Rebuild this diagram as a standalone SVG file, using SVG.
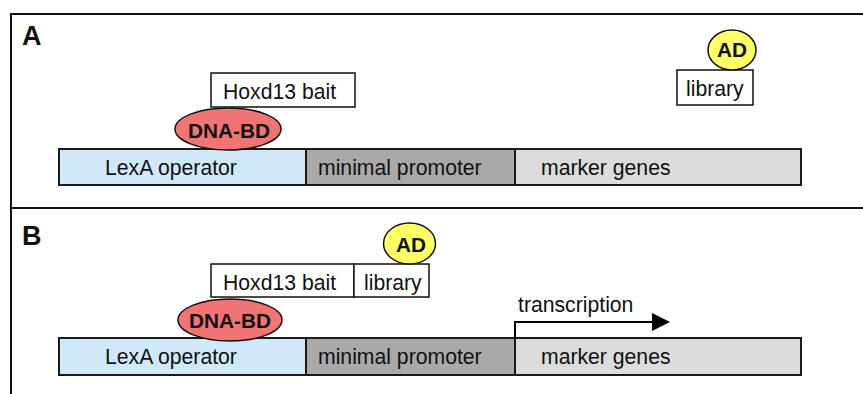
<svg xmlns="http://www.w3.org/2000/svg" width="863" height="394" viewBox="0 0 863 394">
<defs>
<style>
text{font-family:"Liberation Sans",Arial,sans-serif;fill:#111;}
.t{font-size:21.2px;}
.b{font-size:20.8px;font-weight:bold;}
.lbl{font-size:27px;font-weight:bold;}
.box{fill:#fff;stroke:#111;stroke-width:1.5;}
.seg{stroke:#1a1a1a;stroke-width:2;}
.lexa{fill:#cfe9f9;}
.prom{fill:#a9a9a9;}
.mark{fill:#dcdcdc;}
.bd{fill:#f07474;stroke:#111;stroke-width:1.5;}
.ad{fill:#ffff66;stroke:#111;stroke-width:1.5;}
.frame{stroke:#111;stroke-width:2;fill:none;}
</style>
<marker id="arr" markerWidth="18" markerHeight="18" refX="0" refY="9" orient="auto" markerUnits="userSpaceOnUse">
<path d="M0,0 L18,9 L0,18 Z" fill="#000"/>
</marker>
</defs>
<rect width="863" height="394" fill="#fff"/>
<g id="frame">
<path class="frame" d="M11,394 V14 H863 M11,208 H863"/>
<text class="lbl" x="22" y="45">A</text>
<text class="lbl" x="22" y="245">B</text>
</g>
<g id="panelA">
<g id="A-lexa"><rect class="seg lexa" x="59" y="149" width="247" height="36"/><text class="t" x="105" y="175">LexA operator</text></g>
<g id="A-promoter"><rect class="seg prom" x="306" y="149" width="209" height="36"/><text class="t" x="318" y="175">minimal promoter</text></g>
<g id="A-marker"><rect class="seg mark" x="515" y="149" width="286" height="36"/><text class="t" x="541" y="175">marker genes</text></g>
<g id="A-bait"><rect class="box" x="211" y="73" width="144" height="34"/><text class="t" x="223" y="99">Hoxd13 bait</text></g>
<g id="A-dnabd"><ellipse class="bd" cx="228" cy="129" rx="53" ry="21"/><text class="b" x="229" y="138" text-anchor="middle">DNA-BD</text></g>
<g id="A-library"><rect class="box" x="677" y="70" width="76" height="35"/><text class="t" x="686" y="96">library</text></g>
<g id="A-ad"><ellipse class="ad" cx="732" cy="50" rx="24" ry="20"/><text class="b" x="732" y="57" text-anchor="middle">AD</text></g>
</g>
<g id="panelB">
<g id="B-lexa"><rect class="seg lexa" x="59" y="338" width="247" height="37"/><text class="t" x="105" y="364">LexA operator</text></g>
<g id="B-promoter"><rect class="seg prom" x="306" y="338" width="209" height="37"/><text class="t" x="318" y="364">minimal promoter</text></g>
<g id="B-marker"><rect class="seg mark" x="515" y="338" width="286" height="37"/><text class="t" x="541" y="364">marker genes</text></g>
<g id="B-bait"><rect class="box" x="211" y="264" width="143" height="33"/><text class="t" x="223" y="290">Hoxd13 bait</text></g>
<g id="B-dnabd"><ellipse class="bd" cx="230" cy="320" rx="52" ry="21"/><text class="b" x="230" y="328" text-anchor="middle">DNA-BD</text></g>
<g id="B-library"><rect class="box" x="354" y="264" width="75" height="33"/><text class="t" x="364" y="290">library</text></g>
<g id="B-ad"><ellipse class="ad" cx="409.5" cy="243.5" rx="26" ry="20.5"/><text class="b" x="411" y="252" text-anchor="middle">AD</text></g>
<text id="B-transcription" class="t" x="518" y="312">transcription</text>
</g>
<g id="connectors">
<path d="M515,338 V322 H652" fill="none" stroke="#000" stroke-width="2" marker-end="url(#arr)"/>
</g>
</svg>
